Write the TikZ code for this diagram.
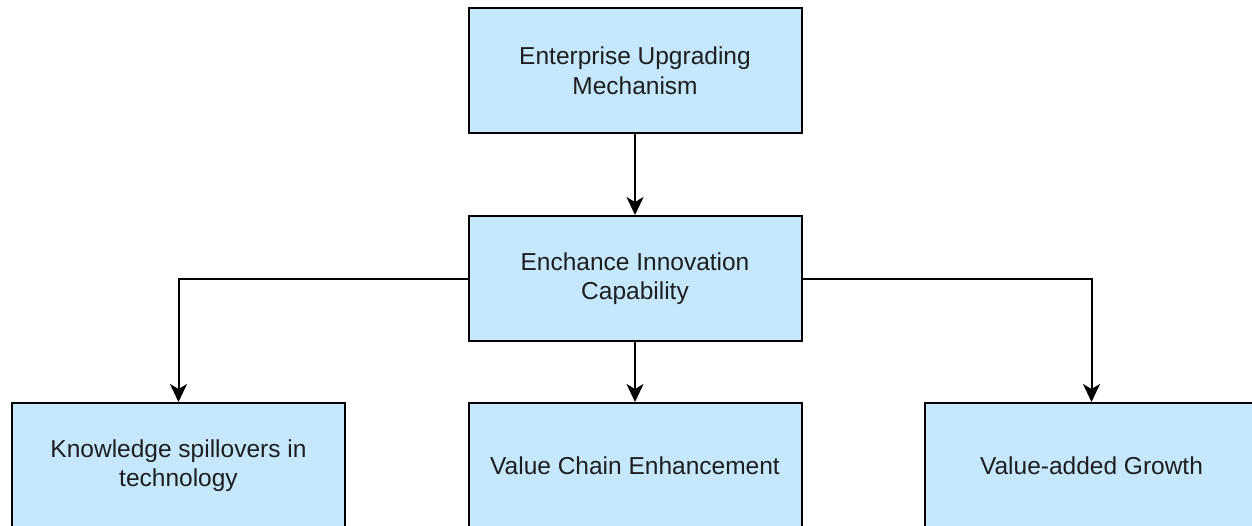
\documentclass[tikz,border=0pt]{standalone}
\usepackage{fontspec}
\setmainfont{Liberation Sans}
\usetikzlibrary{arrows.meta}
\definecolor{boxfill}{RGB}{197,232,253}
\definecolor{txt}{RGB}{30,30,30}
\begin{document}
\begin{tikzpicture}[x=1pt,y=-1pt,
  box/.style={draw=black,fill=boxfill,line width=2pt,minimum width=333pt,minimum height=125pt,
    align=center,text=txt,font=\fontsize{24.5}{29.5}\selectfont,inner sep=0pt},
  conn/.style={line width=2pt,-{Stealth[length=18pt,width=17pt,inset=5pt]}}]
\useasboundingbox (0,0) rectangle (1252,525);
\clip (0,0) rectangle (1252,525);
\node[box] (top) at (635,70.5) {Enterprise Upgrading\\Mechanism};
\node[box] (mid) at (635,278.5) {Enchance Innovation\\Capability};
\node[box] (bl) at (178.5,465.5) {Knowledge spillovers in\\technology};
\node[box] (bm) at (635,465.5) {Value Chain Enhancement};
\node[box] (br) at (1091.5,465.5) {Value-added Growth};
\draw[conn] (top.south) -- (mid.north);
\draw[conn] (mid.south) -- (bm.north);
\draw[conn] (mid.west) -| (bl.north);
\draw[conn] (mid.east) -| (br.north);
\end{tikzpicture}
\end{document}
